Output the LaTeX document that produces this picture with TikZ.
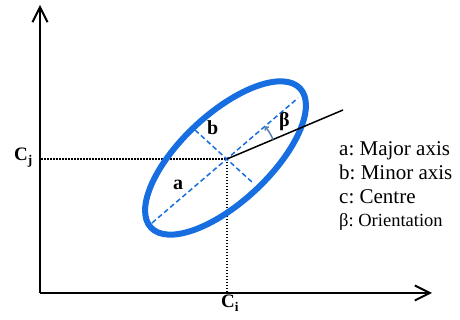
\documentclass[tikz,border=0pt]{standalone}
\usepackage{fontspec}
\setmainfont{Liberation Serif}
\usetikzlibrary{arrows.meta}
\frenchspacing
\definecolor{ellblue}{RGB}{22,110,224}
\definecolor{arcblue}{RGB}{90,130,176}
\tikzset{
  axis/.style={line width=2pt,-{Straight Barb[length=15pt,width=15pt,line width=2pt]}},
  guide/.style={line width=1.5pt,dash pattern=on 1.5pt off 1.5pt},
  axisline/.style={ellblue,line width=1.5pt,dash pattern=on 5pt off 3pt},
  lbl/.style={inner sep=0pt,anchor=base west,font=\bfseries\fontsize{20}{24}\selectfont},
  leg/.style={inner sep=0pt,anchor=base west,font=\frenchspacing\fontsize{21}{24}\selectfont},
}
\begin{document}
\begin{tikzpicture}[x=1pt,y=1pt]
\useasboundingbox (0,0) rectangle (460,320);
% axes
\coordinate (O) at (40,27);
\coordinate (Ytop) at (40,315);
\coordinate (Xend) at (432,27);
\coordinate (C) at (227,161);
\coordinate (Cy) at (41,161);
\coordinate (Cx) at (227,28);
% guides
\draw[guide] (Cy) -- (C);
\draw[guide] (C) -- (Cx);
% ellipse
\draw[ellblue,line width=6pt,rotate around={43:(225.5,162)}] (225.5,162) ellipse [x radius=102,y radius=44];
% axes of ellipse
\coordinate (Mu) at (298,222);
\coordinate (Ml) at (152,97);
\coordinate (mu) at (195,190);
\coordinate (ml) at (253,137);
\draw[axisline] (Ml) -- (Mu);
\draw[axisline] (mu) -- (ml);
\fill[ellblue] (C) circle (1.6);
% orientation line
\coordinate (R) at (343,210);
\draw[line width=1.5pt] (C) -- (R);
\draw[arcblue,line width=1.5pt,-{Straight Barb[length=2.5pt,width=5pt]}] ([shift={(23:50)}]C) arc[start angle=23,end angle=41,radius=50];
\draw[axis] (O) -- (Ytop);
\draw[axis] (O) -- (Xend);
% labels
\node[lbl] (la) at (173,130) {a};
\node[lbl] (lb) at (207,185) {b};
\node[lbl] (lbeta) at (279,193) {β};
\node[inner sep=0pt,anchor=base west,font=\bfseries\fontsize{19}{24}\selectfont] (Cj) at (14,159) {C\textsubscript{j}};
\node[inner sep=0pt,anchor=base west,font=\bfseries\fontsize{19}{24}\selectfont] (Ci) at (221,12) {C\textsubscript{i}};
\node[leg] (l1) at (339,164) {a: Major axis};
\node[leg] (l2) at (339,140) {b: Minor axis};
\node[leg] (l3) at (339,116) {c: Centre};
\node[inner sep=0pt,anchor=base west,font=\frenchspacing\fontsize{18.5}{24}\selectfont] (l4) at (339,93) {β: Orientation};
\end{tikzpicture}
\end{document}
